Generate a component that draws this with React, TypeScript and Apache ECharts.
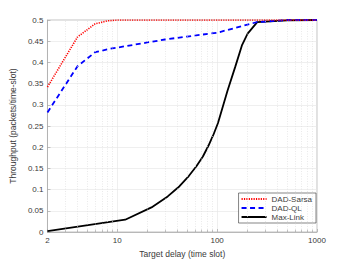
import React, { useEffect, useRef } from "react";
import * as echarts from "echarts";

const SARSA_X = [2, 4, 6, 8, 10, 20, 50, 100, 250, 500, 1000];
const SARSA_Y = [0.342, 0.46, 0.491, 0.498, 0.5, 0.5, 0.5, 0.5, 0.5, 0.5, 0.5];

const QL_X = [2, 4, 6, 8, 10, 20, 30, 50, 100, 250, 500, 1000];
const QL_Y = [0.282, 0.391, 0.424, 0.431, 0.435, 0.447, 0.454, 0.461, 0.47, 0.495, 0.5, 0.5];

const ML_X = [2, 12, 22, 32, 42, 52, 62, 72, 82, 92, 102, 127, 152, 177, 202, 252, 502, 1000];
const ML_Y = [0.002, 0.029, 0.058, 0.084, 0.108, 0.132, 0.155, 0.178, 0.204, 0.23, 0.257, 0.333, 0.39, 0.44, 0.468, 0.495, 0.499, 0.5];

const MINOR_X = [3, 4, 5, 6, 7, 8, 9, 20, 30, 40, 50, 60, 70, 80, 90, 200, 300, 400, 500, 600, 700, 800, 900];

const FONT = "Liberation Sans";
const TXT = "#3a3a3a";

function pairs(xs: number[], ys: number[]) {
  return xs.map((x, i) => [x, ys[i]]);
}

export default function App() {
  const ref = useRef<HTMLDivElement>(null);
  useEffect(() => {
    if (!ref.current) return;
    const chart = echarts.init(ref.current, undefined, { renderer: "svg" });
    chart.setOption({
      animation: false,
      backgroundColor: "#fff",
      textStyle: { fontFamily: FONT },
      grid: { left: 46, top: 20, right: 33, bottom: 29, show: true, borderColor: "#9a9a9a", borderWidth: 0.6, backgroundColor: "transparent" },
      legend: {
        orient: "vertical",
        right: 34,
        bottom: 40,
        itemWidth: 25,
        itemHeight: 8,
        itemGap: 1,
        padding: [2, 4, 2, 2],
        borderColor: "#333",
        borderWidth: 0.6,
        backgroundColor: "#fff",
        itemStyle: { opacity: 0 },
        textStyle: { fontFamily: FONT, fontSize: 8, color: TXT },
        data: ["DAD-Sarsa", "DAD-QL", "Max-Link"],
      },
      xAxis: {
        type: "log",
        logBase: 10,
        min: 2,
        max: 1000,
        name: "Target delay (time slot)",
        nameLocation: "middle",
        nameGap: 17,
        nameTextStyle: { fontFamily: FONT, fontSize: 8.5, color: TXT },
        axisLine: { show: true, lineStyle: { color: "#9a9a9a", width: 0.6 } },
        axisTick: { show: true, inside: true, length: 3, lineStyle: { color: "#9a9a9a", width: 0.6 } },
        axisLabel: { fontFamily: FONT, fontSize: 8, color: TXT, margin: 4, formatter: (v: number) => String(Math.round(v)) },
        splitLine: { show: true, lineStyle: { color: "#e4e4e4", width: 0.6 } },
      },
      yAxis: {
        type: "value",
        min: 0,
        max: 0.5,
        interval: 0.05,
        name: "Throughput (packets/time-slot)",
        nameLocation: "middle",
        nameGap: 19,
        nameTextStyle: { fontFamily: FONT, fontSize: 8.5, color: TXT },
        axisLine: { show: true, lineStyle: { color: "#9a9a9a", width: 0.6 } },
        axisTick: { show: true, inside: true, length: 3, lineStyle: { color: "#9a9a9a", width: 0.6 } },
        axisLabel: { fontFamily: FONT, fontSize: 8, color: TXT, margin: 4 },
        splitLine: { show: true, lineStyle: { color: "#e4e4e4", width: 0.6 } },
      },
      series: [
        {
          name: "minor",
          type: "line",
          data: [],
          silent: true,
          markLine: {
            silent: true,
            symbol: "none",
            label: { show: false },
            lineStyle: { color: "#dcdcdc", width: 0.6, type: [1, 1.5] },
            data: MINOR_X.map((x) => ({ xAxis: x })),
          },
          z: 1,
        },
        {
          name: "minorTicks",
          type: "line",
          data: [],
          silent: true,
          markLine: {
            silent: true,
            symbol: "none",
            label: { show: false },
            lineStyle: { color: "#9a9a9a", width: 0.6, type: "solid" },
            data: MINOR_X.map((x) => [{ coord: [x, 0] }, { coord: [x, 0.0055] }]),
          },
          z: 1,
        },
        {
          name: "DAD-Sarsa",
          type: "line",
          data: pairs(SARSA_X, SARSA_Y),
          showSymbol: false,
          symbol: "none",
          lineStyle: { color: "#ff0000", width: 1.6, type: [1.2, 1.2] },
          itemStyle: { color: "#ff0000" },
          z: 4,
        },
        {
          name: "DAD-QL",
          type: "line",
          data: pairs(QL_X, QL_Y),
          showSymbol: false,
          symbol: "none",
          lineStyle: { color: "#0000ff", width: 1.8, type: [5, 3.5] },
          itemStyle: { color: "#0000ff" },
          z: 3,
        },
        {
          name: "Max-Link",
          type: "line",
          data: pairs(ML_X, ML_Y),
          showSymbol: false,
          symbol: "none",
          lineStyle: { color: "#000000", width: 1.8 },
          itemStyle: { color: "#000000" },
          z: 2,
        },
      ],
    });
    return () => chart.dispose();
  }, []);
  return <div ref={ref} style={{ position: "fixed", left: 0, top: 0, width: 350, height: 263 }} />;
}
